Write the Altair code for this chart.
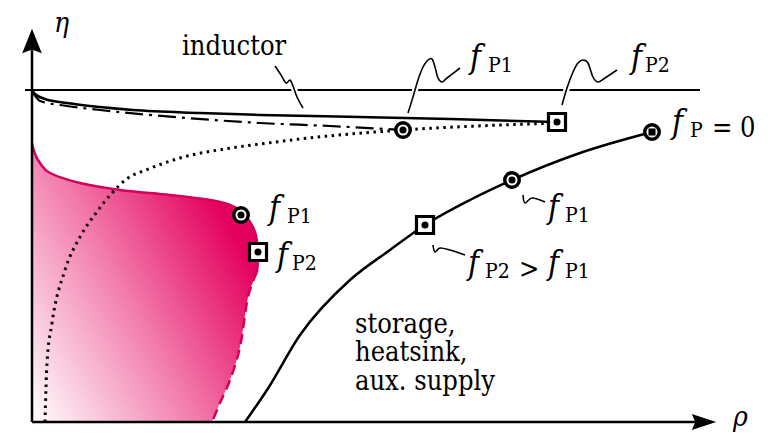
import altair as alt
import pandas as pd

# ---- schematic data (rho to the right, eta upward; arbitrary units) ----
ideal_eta = 332
ideal_rho = [-7, 668]
rho_axis_end = 670
eta_axis_end = 375

inductor_rho = [0, 3, 13, 35, 68, 101, 168, 228, 328, 418, 525]
inductor_eta = [332, 328, 323, 319, 315, 312, 309, 307, 305, 303, 300]

dashdot_rho = [0, 8, 35, 68, 155, 228, 298, 371]
dashdot_eta = [331, 321, 316, 312, 304, 299, 296, 292]

dotted_rho = [13, 15, 20, 33, 48, 64, 80, 96, 114, 148, 199, 236, 268, 318, 371, 525]
dotted_eta = [0, 59, 99, 152, 185, 209, 229, 244, 252, 264, 274, 279, 283, 288, 292, 299]

other_rho = [213, 235, 268, 318, 358, 393, 438, 480, 548, 620]
other_eta = [0, 32, 87, 142, 172, 197, 222, 242, 269, 290]

pink_eta = [279, 268, 259, 249, 239, 232, 227, 222, 217, 210, 200, 190, 180, 165, 150, 125, 75, 42, 19, 0]
pink_rho = [0, 3, 8, 18, 48, 88, 138, 178, 198, 210, 218, 223, 225, 226, 225, 216, 208, 198, 188, 180]
pink_dash_below = 150

circle_rho = [371, 209, 480, 620]
circle_eta = [292, 207, 242, 290]
circle_dot = ["circle", "circle", "circle", "square"]
square_rho = [525, 226, 393]
square_eta = [300, 170, 197]

squiggles = {
    "inductor": ([243, 249, 254, 258, 261, 265, 271], [356, 347, 339, 342, 336, 325, 314]),
    "topP1": ([376, 381, 386, 391, 396, 400, 403, 406, 410, 415, 428],
              [309, 325, 342, 355, 362, 363, 355, 344, 340, 344, 354]),
    "topP2": ([530, 535, 541, 546, 551, 556, 561, 566, 573, 585],
              [317, 334, 350, 359, 362, 359, 345, 340, 344, 352]),
    "rightP1": ([491, 493, 500, 513], [227, 219, 224, 220]),
    "rightP2": ([401, 403, 408, 418, 433], [177, 170, 174, 172, 167]),
}

f_rho = [438, 599, 640, 237, 245, 516, 436, 516]
f_eta = [354, 354, 289, 203, 156, 204, 148, 148]
sub_text = ["P1", "P2", "P", "P1", "P2", "P1", "P2", "P1"]
sub_rho = [456, 613, 658, 255, 260, 533, 453, 533]
sub_eta = [350, 350, 285, 199, 152, 200, 144, 144]
reg_text = ["inductor", "= 0", ">", "storage,", "heatsink,", "aux. supply"]
reg_rho = [150, 680, 487, 323, 323, 323]
reg_eta = [367, 285, 144, 89, 61, 32]
greek_text = ["η", "ρ"]
greek_rho = [22, 701]
greek_eta = [390, -4]
arrow_rho = [0, 672]
arrow_eta = [381, 0]

# ---- scales ----
XS = alt.Scale(domain=[-24, 731])
YS = alt.Scale(domain=[-10, 414])


def enc(**kw):
    return dict(x=alt.X("rho:Q", scale=XS, axis=None), y=alt.Y("eta:Q", scale=YS, axis=None), **kw)


def df(r, e, **extra):
    d = pd.DataFrame({"rho": r, "eta": e, "i": list(range(len(r)))})
    for k, v in extra.items():
        d[k] = v
    return d


FONT = "DejaVu Serif Condensed, DejaVu Serif"
layers = []

# pink feasible region
pink = df(pink_rho, pink_eta, rho0=0)
grad = alt.LinearGradient(
    gradient="linear",
    stops=[alt.GradientStop(color="#ffffff", offset=0),
           alt.GradientStop(color="#f27aab", offset=0.5),
           alt.GradientStop(color="#e4005d", offset=0.92)],
    x1=0, y1=1, x2=1, y2=0.3)
layers.append(alt.Chart(pink).mark_area(orient="horizontal", interpolate="cardinal", color=grad).encode(
    y=alt.Y("eta:Q", scale=YS, axis=None), x=alt.X("rho:Q", scale=XS, axis=None), x2="rho0:Q"))
pink_solid = pink[pink.eta >= pink_dash_below]
pink_dash = pink[pink.eta <= pink_dash_below]
layers.append(alt.Chart(pink_solid).mark_line(interpolate="cardinal", color="#d4005a", strokeWidth=2.5).encode(
    **enc(order="i:Q")))
layers.append(alt.Chart(pink_dash).mark_line(interpolate="cardinal", color="#d4005a", strokeWidth=2.5,
                                             strokeDash=[10, 6]).encode(**enc(order="i:Q")))

# ideal line and axes
layers.append(alt.Chart(df(ideal_rho, [ideal_eta, ideal_eta])).mark_line(color="black", strokeWidth=2).encode(**enc()))
layers.append(alt.Chart(df([0, 0], [0, eta_axis_end])).mark_line(color="black", strokeWidth=2.5).encode(
    **enc(order="i:Q")))
layers.append(alt.Chart(df([0, rho_axis_end], [0, 0])).mark_line(color="black", strokeWidth=2.5).encode(**enc()))

# curves
layers.append(alt.Chart(df(inductor_rho, inductor_eta)).mark_line(interpolate="monotone", color="black",
                                                                  strokeWidth=2.5).encode(**enc()))
layers.append(alt.Chart(df(dashdot_rho, dashdot_eta)).mark_line(interpolate="monotone", color="black",
                                                                strokeWidth=2.2, strokeDash=[18, 6, 3, 6]).encode(**enc()))
layers.append(alt.Chart(df(dotted_rho, dotted_eta)).mark_line(interpolate="monotone", color="black",
                                                              strokeWidth=3, strokeDash=[2.5, 4.5]).encode(**enc()))
layers.append(alt.Chart(df(other_rho, other_eta)).mark_line(interpolate="monotone", color="black",
                                                            strokeWidth=2.5).encode(**enc()))

# squiggle leaders
sq = pd.concat([df(r, e, name=n) for n, (r, e) in squiggles.items()], ignore_index=True)
layers.append(alt.Chart(sq).mark_line(interpolate="cardinal", color="white", strokeWidth=6).encode(
    **enc(detail="name:N", order="i:Q")))
layers.append(alt.Chart(sq).mark_line(interpolate="cardinal", color="black", strokeWidth=1.6).encode(
    **enc(detail="name:N", order="i:Q")))

# markers
layers.append(alt.Chart(df(circle_rho, circle_eta)).mark_point(shape="circle", filled=True, fill="white",
                                                               stroke="black", strokeWidth=3.5, size=210,
                                                               opacity=1).encode(**enc()))
layers.append(alt.Chart(df(square_rho, square_eta)).mark_point(shape="square", filled=True, fill="white",
                                                               stroke="black", strokeWidth=3.2, size=290,
                                                               opacity=1).encode(**enc()))
dots = pd.concat([df(circle_rho, circle_eta, shape=circle_dot),
                  df(square_rho, square_eta, shape=["circle"] * len(square_rho))], ignore_index=True)
layers.append(alt.Chart(dots).mark_point(filled=True, color="black", size=50, opacity=1).encode(
    **enc(shape=alt.Shape("shape:N", scale=None))))

# arrowheads
arrows = df(arrow_rho, arrow_eta, shape=["M0,-1L0.8,1L0,0.7L-0.8,1Z", "M1,0L-1,0.65L-0.7,0L-1,-0.65Z"])
layers.append(alt.Chart(arrows).mark_point(filled=True, color="black", size=600, opacity=1).encode(
    **enc(shape=alt.Shape("shape:N", scale=None))))

# text
layers.append(alt.Chart(df(f_rho, f_eta, t=["f"] * len(f_rho))).mark_text(
    font=FONT, fontStyle="italic", fontSize=33, align="left", baseline="alphabetic", color="black").encode(
    **enc(text="t:N")))
layers.append(alt.Chart(df(sub_rho, sub_eta, t=sub_text)).mark_text(
    font=FONT, fontSize=21, align="left", baseline="alphabetic", color="black").encode(**enc(text="t:N")))
layers.append(alt.Chart(df(reg_rho, reg_eta, t=reg_text)).mark_text(
    font=FONT, fontSize=27, align="left", baseline="alphabetic", color="black").encode(**enc(text="t:N")))
layers.append(alt.Chart(df(greek_rho, greek_eta, t=greek_text)).mark_text(
    font=FONT, fontStyle="italic", fontSize=28, align="left", baseline="alphabetic", color="black").encode(
    **enc(text="t:N")))

chart = alt.layer(*layers).properties(
    width=755, height=424, padding=0, background="white",
    autosize=alt.AutoSizeParams(type="none")
).configure_view(stroke=None)

chart.save("out.html", embed_options={"renderer": "svg", "actions": False})
